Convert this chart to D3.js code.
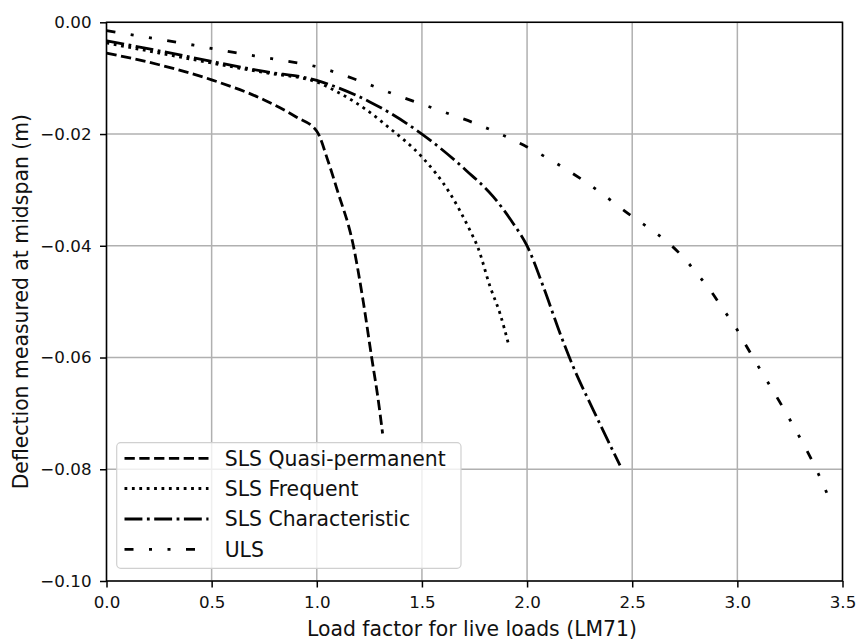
<!DOCTYPE html>
<html><head><meta charset="utf-8">
<script src="https://cdn.jsdelivr.net/npm/d3@7/dist/d3.min.js"></script>
<style>body{margin:0;background:#fff}svg{display:block}text{font-family:"DejaVu Sans",sans-serif;fill:#111}</style>
</head><body><svg id="c" width="856" height="639"></svg>
<script>
const xTicks = [0, 0.5, 1.0, 1.5, 2.0, 2.5, 3.0, 3.5];
const yTicks = [0, -0.02, -0.04, -0.06, -0.08, -0.10];

const qpX = [0, 0.25, 0.5, 0.75, 0.9, 1.0, 1.055, 1.097, 1.174, 1.221, 1.261, 1.29, 1.313];
const qpY = [-0.0055, -0.0076, -0.0103, -0.0139, -0.0169, -0.0195, -0.025, -0.03, -0.04, -0.05, -0.06, -0.067, -0.0736];

const frX = [0, 0.25, 0.5, 0.75, 1.0, 1.095, 1.237, 1.348, 1.5, 1.633, 1.72, 1.768, 1.824, 1.871, 1.911];
const frY = [-0.0037, -0.0055, -0.0073, -0.009, -0.0107, -0.0124, -0.0157, -0.019, -0.0241, -0.0306, -0.0366, -0.0405, -0.0473, -0.0521, -0.0575];

const chX = [0, 0.25, 0.5, 0.75, 1.0, 1.1, 1.25, 1.5, 1.713, 1.839, 1.934, 2.0, 2.077, 2.157, 2.22, 2.315, 2.442];
const chY = [-0.0033, -0.0051, -0.007, -0.0088, -0.0104, -0.0117, -0.0142, -0.02, -0.0266, -0.0312, -0.036, -0.04, -0.0473, -0.0557, -0.0617, -0.0694, -0.0793];

const ulsX = [0, 0.21, 0.416, 0.606, 0.798, 1.004, 1.19, 1.369, 1.57, 1.76, 2.0, 2.283, 2.513, 2.605, 2.676, 2.751, 2.817, 2.874, 2.933, 2.992, 3.036, 3.092, 3.242, 3.385, 3.425];
const ulsY = [-0.0015, -0.0028, -0.0041, -0.0054, -0.0066, -0.008, -0.0103, -0.0129, -0.0156, -0.0182, -0.0223, -0.0287, -0.0351, -0.0375, -0.0396, -0.0424, -0.0454, -0.0481, -0.0514, -0.0546, -0.0575, -0.0611, -0.0706, -0.0808, -0.0842];

const seriesNames = ["SLS Quasi-permanent", "SLS Frequent", "SLS Characteristic", "ULS"];
const seriesX = [qpX, frX, chX, ulsX];
const seriesY = [qpY, frY, chY, ulsY];
const dashes = ["10.3,4.5", "2.8,4.6", "17.9,4.5,2.8,4.5", "9,15.5,3,15.5,3,15.5"];

const L = 106.5, R = 842.5, T = 22.3, B = 581;
const svg = d3.select("#c");
const x = d3.scaleLinear().domain([0, 3.5]).range([L, R]);
const y = d3.scaleLinear().domain([-0.10, 0]).range([B, T]);

// grid
const g = svg.append("g");
g.selectAll(".gx").data(xTicks).enter().append("line")
  .attr("x1", d => x(d)).attr("x2", d => x(d)).attr("y1", T).attr("y2", B)
  .attr("stroke", "#b0b0b0").attr("stroke-width", 1.5);
g.selectAll(".gy").data(yTicks).enter().append("line")
  .attr("y1", d => y(d)).attr("y2", d => y(d)).attr("x1", L).attr("x2", R)
  .attr("stroke", "#b0b0b0").attr("stroke-width", 1.5);

// lines
const line = d3.line().x(d => x(d[0])).y(d => y(d[1])).curve(d3.curveMonotoneX);
seriesX.forEach((xs, i) => {
  const pts = xs.map((v, j) => [v, seriesY[i][j]]);
  svg.append("path").attr("d", line(pts)).attr("fill", "none")
    .attr("stroke", "#000").attr("stroke-width", 2.8)
    .attr("stroke-dasharray", dashes[i]);
});

// axes
const fmtY = v => (v === 0 ? "0.00" : d3.format(".2f")(v).replace("-", "\u2212"));
const xAxis = d3.axisBottom(x).tickValues(xTicks).tickFormat(d3.format(".1f")).tickSizeInner(6.5).tickSizeOuter(0).tickPadding(9);
const yAxis = d3.axisLeft(y).tickValues(yTicks).tickFormat(fmtY).tickSizeInner(6.5).tickSizeOuter(0).tickPadding(8.5);
const ax = svg.append("g").attr("transform", `translate(0,${B})`).call(xAxis);
const ay = svg.append("g").attr("transform", `translate(${L},0)`).call(yAxis);
[ax, ay].forEach(a => {
  a.select(".domain").remove();
  a.selectAll("line").attr("stroke", "#000").attr("stroke-width", 1.5);
  a.selectAll("text").attr("font-size", 16.7).attr("font-family", "DejaVu Sans").attr("fill", "#111");
});

// spines
svg.append("rect").attr("x", L).attr("y", T).attr("width", R - L).attr("height", B - T)
  .attr("fill", "none").attr("stroke", "#000").attr("stroke-width", 1.5);

// labels
svg.append("text").attr("x", 472).attr("y", 635.5).attr("text-anchor", "middle")
  .attr("font-size", 20.4).text("Load factor for live loads (LM71)");
svg.append("text").attr("transform", `translate(27.5,${(T + B) / 2}) rotate(-90)`).attr("text-anchor", "middle")
  .attr("font-size", 20.4).text("Deflection measured at midspan (m)");

// legend
const lg = svg.append("g");
lg.append("rect").attr("x", 116.7).attr("y", 442.7).attr("width", 344.3).attr("height", 125.6)
  .attr("rx", 4).attr("fill", "#fff").attr("fill-opacity", 0.8).attr("stroke", "#d0d0d0").attr("stroke-width", 1.2);
const rowY = [458.3, 488.5, 519, 549.3];
seriesNames.forEach((n, i) => {
  lg.append("line").attr("x1", 124.5).attr("x2", 208.5).attr("y1", rowY[i]).attr("y2", rowY[i])
    .attr("stroke", "#000").attr("stroke-width", 2.8).attr("stroke-dasharray", dashes[i]);
  lg.append("text").attr("x", 224.7).attr("y", rowY[i]).attr("dy", "0.36em")
    .attr("font-size", 20.4).text(n);
});
</script></body></html>
